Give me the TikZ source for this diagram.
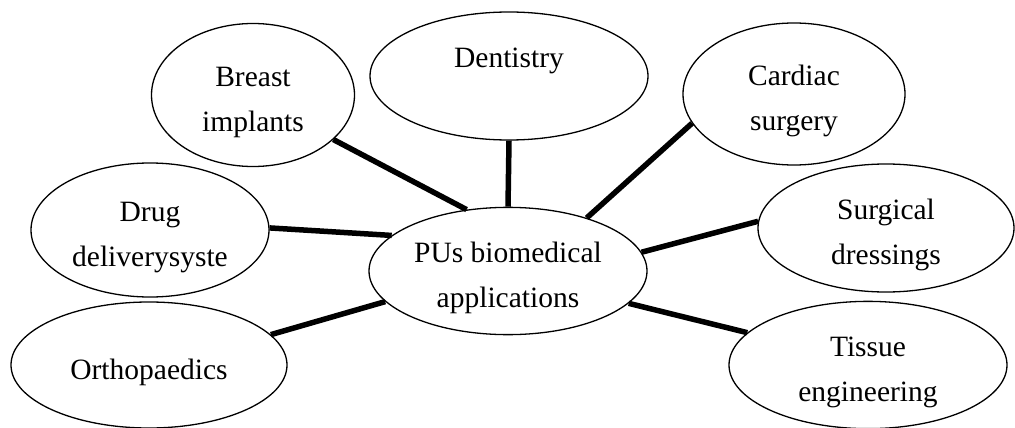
\documentclass[tikz,border=0pt]{standalone}
\usepackage{fontspec}
\setmainfont{Liberation Serif}
\usetikzlibrary{shapes.geometric}
\newcommand\txtlines[1]{\raisebox{-5pt}[\height][\depth]{\makebox[0pt]{\begin{tabular}{@{}c@{}}#1\end{tabular}}}}
\begin{document}
\begin{tikzpicture}[x=1pt,y=-1pt,
  bubble/.style={ellipse, draw=black, line width=1.3pt, inner sep=0pt,
    font=\fontsize{29.5}{45}\selectfont},
  link/.style={line width=5.5pt, black}]
\useasboundingbox (0,0) rectangle (1015,428);
\node[bubble, minimum width=278, minimum height=126] (c) at (508,271) {\txtlines{PUs biomedical\\applications}};
\node[bubble, minimum width=203, minimum height=143] (breast) at (253,95) {\txtlines{Breast\\implants}};
\node[bubble, minimum width=278, minimum height=128] (dent) at (509,76) {\txtlines{Dentistry\\{}}};
\node[bubble, minimum width=222, minimum height=142] (card) at (794,94) {\txtlines{Cardiac\\surgery}};
\node[bubble, minimum width=238, minimum height=134] (drug) at (150,230) {\txtlines{Drug\\deliverysyste}};
\node[bubble, minimum width=256, minimum height=128] (surg) at (886,228) {\txtlines{Surgical\\dressings}};
\node[bubble, minimum width=276, minimum height=126] (ortho) at (149,365) {\txtlines{Orthopaedics}};
\node[bubble, minimum width=278, minimum height=124] (tissue) at (868,365) {\txtlines{Tissue\\engineering}};
\draw[link] (breast.-29.5) -- (c.124);
\draw[link] (dent.south) -- (c.north);
\draw[link] (card.196.6) -- (c.34.8);
\draw[link] (drug.1) -- (c.163.7);
\draw[link] (ortho.14.6) -- (c.194.5);
\draw[link] (c.8.1) -- (surg.177.3);
\draw[link] (c.-15.1) -- (tissue.165.5);
\end{tikzpicture}
\end{document}
